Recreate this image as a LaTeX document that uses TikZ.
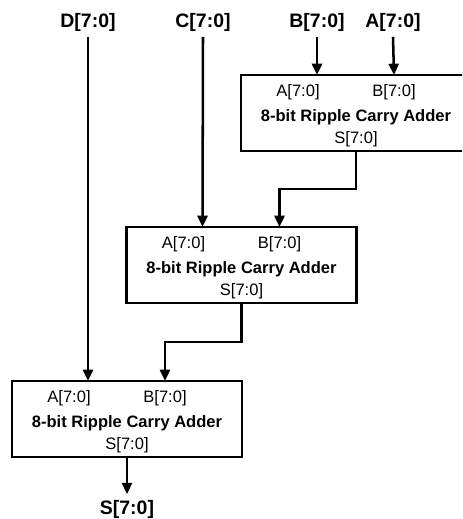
\documentclass[tikz,border=0pt]{standalone}
\usepackage{fontspec}
\setmainfont{Liberation Sans}
\usetikzlibrary{arrows.meta,calc}
\begin{document}
\begin{tikzpicture}[x=0.75pt,y=-0.75pt,
  adder/.style={draw, line width=2.2pt, rectangle, minimum width=172.5pt, minimum height=57pt, inner sep=0pt, outer sep=0pt},
  wire/.style={line width=1.9pt, -{Triangle[length=8.5pt,width=7.5pt]}},
  toplab/.style={font=\fontsize{14.6}{17}\selectfont\bfseries, inner sep=0pt, outer sep=4.3pt, anchor=base},
  portlab/.style={font=\fontsize{12.4}{14}\selectfont, inner sep=0pt, anchor=base},
  titlelab/.style={font=\fontsize{12.4}{14}\selectfont\bfseries, inner sep=0pt, anchor=base}]
\clip (0,0) rectangle (462,519);

% adders
\node[adder] (r1) at (356,113) {};
\node[adder] (r2) at (241.5,265) {};
\node[adder] (r3) at (127,419) {};

\foreach \r in {r1,r2,r3}{
  \node[portlab] (\r la) at ($(\r.north west)+(57,21)$) {A[7:0]};
  \node[portlab] (\r lb) at ($(\r.north west)+(153,21)$) {B[7:0]};
  \node[titlelab] (\r t) at ($(\r.north)+(0,46)$) {8-bit Ripple Carry Adder};
  \node[portlab] (\r s) at ($(\r.north)+(0,68)$) {S[7:0]};
  \coordinate (\r a) at ($(\r.north west)+(76,0)$);
  \coordinate (\r b) at ($(\r.north west)+(153,0)$);
}

% top labels
\node[toplab] (labD) at (88,27) {D[7:0]};
\node[toplab] (labC) at (203,27) {C[7:0]};
\node[toplab] (labB) at (317,27) {B[7:0]};
\node[toplab] (labA) at (393,27) {A[7:0]};
\node[toplab] (labS) at (127,514) {S[7:0]};

% wires
\draw[wire] (labB.south) -- (r1a);
\draw[wire] (labA.south) -- (r1b);
\draw[wire] (labC.south) -- (r2a);
\draw[wire] (labD.south) -- (r3a);
\draw[wire] (r1.south) -- ++(0,38) -| (r2b);
\draw[wire] (r2.south) -- ++(0,39) -| (r3b);
\draw[wire] (r3.south) -- (labS.north);
\end{tikzpicture}
\end{document}
